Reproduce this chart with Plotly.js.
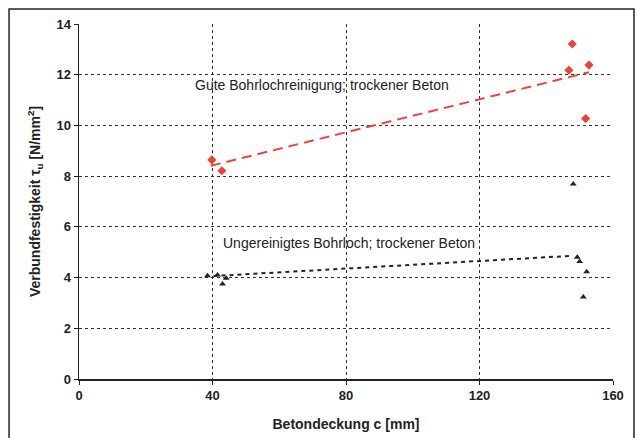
<!DOCTYPE html>
<html>
<head>
<meta charset="utf-8">
<script src="https://cdn.plot.ly/plotly-3.0.1.min.js"></script>
<style>
html,body{margin:0;padding:0;background:#fff;}
#chart{width:637px;height:438px;}
</style>
</head>
<body>
<div id="chart"></div>
<script>
// Gute Bohrlochreinigung; trockener Beton (red diamonds)
const guteX = [39.8, 42.8, 147.8, 146.8, 152.8, 151.8];
const guteY = [8.64, 8.21, 13.21, 12.18, 12.38, 10.27];
const guteTrendX = [39.5, 152.8];
const guteTrendY = [8.41, 12.10];

// Ungereinigtes Bohrloch; trockener Beton (black triangles)
const ungX = [38.5, 41.5, 43.0, 44.1, 148.1, 149.3, 150.0, 152.1, 151.1];
const ungY = [4.07, 4.10, 3.75, 3.97, 7.69, 4.80, 4.63, 4.23, 3.23];
const ungTrendX = [40.3, 147.8];
const ungTrendY = [4.06, 4.86];

const xTicks = [0, 40, 80, 120, 160];
const yTicks = [0, 2, 4, 6, 8, 10, 12, 14];

const labelGute = "Gute Bohrlochreinigung; trockener Beton";
const labelUng = "Ungereinigtes Bohrloch; trockener Beton";

const traces = [
  {x: guteTrendX, y: guteTrendY, mode: 'lines', line: {color: '#e8483a', width: 2, dash: '10px,6px'}, hoverinfo: 'skip'},
  {x: ungTrendX, y: ungTrendY, mode: 'lines', line: {color: '#222', width: 2, dash: '4px,4px'}, hoverinfo: 'skip'},
  {x: guteX, y: guteY, mode: 'markers', marker: {symbol: 'diamond', size: 7, color: '#f0403a'}},
  {x: ungX, y: ungY, mode: 'markers', marker: {symbol: 'triangle-up', size: 6, color: '#222'}}
];

const axisFont = {family: 'Liberation Sans, Arial, sans-serif', size: 13, color: '#222'};
const layout = {
  width: 637, height: 438,
  margin: {l: 79, r: 24, t: 24, b: 59},
  paper_bgcolor: '#fff', plot_bgcolor: '#fff',
  showlegend: false,
  font: {family: 'Liberation Sans, Arial, sans-serif', color: '#222'},
  xaxis: {
    range: [0, 160], tickvals: xTicks, ticktext: xTicks.map(String),
    showline: true, linecolor: '#222', linewidth: 1.5,
    ticks: 'outside', ticklen: 4, tickcolor: '#222',
    showgrid: true, gridcolor: '#333', gridwidth: 1, griddash: 'dot',
    zeroline: false,
    tickfont: Object.assign({}, axisFont, {weight: 'bold'}),
    title: {text: '<b>Betondeckung c [mm]</b>', font: {family: 'Liberation Sans, Arial, sans-serif', size: 14, color: '#222'}, standoff: 17}
  },
  yaxis: {
    range: [0, 14], tickvals: yTicks, ticktext: yTicks.map(String),
    showline: true, linecolor: '#222', linewidth: 1.5,
    ticks: 'outside', ticklen: 4, tickcolor: '#222',
    showgrid: true, gridcolor: '#333', gridwidth: 1, griddash: 'dot',
    zeroline: false,
    tickfont: Object.assign({}, axisFont, {weight: 'bold'}),
    title: {text: '<b>Verbundfestigkeit τ<sub>u</sub> [N/mm<sup>2</sup>]</b>', font: {family: 'Liberation Sans, Arial, sans-serif', size: 14, color: '#222'}, standoff: 12}
  },
  annotations: [
    {x: 34.2, y: 11.6, xref: 'x', yref: 'y', text: labelGute, showarrow: false, xanchor: 'left', yanchor: 'middle',
     font: {family: 'Liberation Sans, Arial, sans-serif', size: 14, color: '#222'}},
    {x: 42.5, y: 5.35, xref: 'x', yref: 'y', text: labelUng, showarrow: false, xanchor: 'left', yanchor: 'middle',
     font: {family: 'Liberation Sans, Arial, sans-serif', size: 14, color: '#222'}}
  ],
  shapes: [
    {type: 'rect', xref: 'paper', yref: 'paper', x0: -0.131, x1: 1.0393, y0: -0.25, y1: 1.0423,
     line: {color: '#222', width: 1.5}, fillcolor: 'rgba(0,0,0,0)', layer: 'below'}
  ]
};

Plotly.newPlot('chart', traces, layout, {staticPlot: true, displayModeBar: false});
</script>
</body>
</html>
